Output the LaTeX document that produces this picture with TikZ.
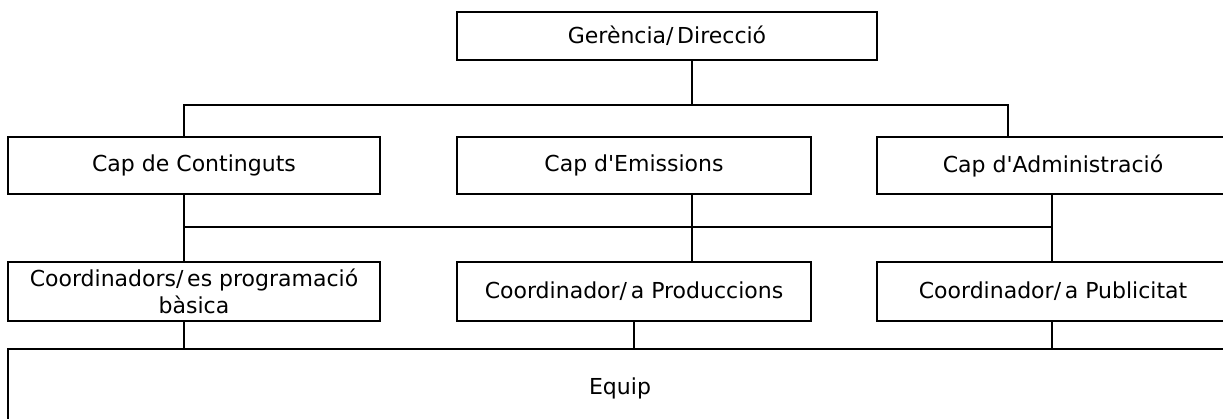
\documentclass[tikz,border=0pt]{standalone}
\usepackage{fontspec}
\setmainfont{DejaVu Sans}
\tikzset{
  box/.style={draw, rectangle, line width=1.4pt, inner sep=2pt, align=center,
    font=\fontsize{16.5}{20.5}\selectfont},
  link/.style={draw, line width=0.8pt}
}
\begin{document}
\begin{tikzpicture}[x=0.75pt,y=-0.75pt]
   \useasboundingbox (0,0) rectangle (1223,418);
   \clip (0,0) rectangle (1223,418);

   \node (Ger)  [box, minimum width=315pt, minimum height=36pt] at (667,36) {Gerència/\,Direcció};
   \node (CapC) [box, minimum width=279pt, minimum height=42.75pt] at (194,165.5) {Cap de Continguts};
   \node (CapE) [box, minimum width=265.5pt, minimum height=42.75pt] at (634,165.5) {Cap d\textquotesingle Emissions};
   \node (CapA) [box, minimum width=264pt, minimum height=42.75pt] at (1053,165.5) {Cap d\textquotesingle Administració};
   \node (CoP)  [box, minimum width=279pt, minimum height=44.25pt] at (194,291.5) {Coordinadors/\,es programació\\bàsica};
   \node (CoD)  [box, minimum width=265.5pt, minimum height=44.25pt] at (634,291.5) {Coordinador/\,a Produccions};
   \node (CoU)  [box, minimum width=264pt, minimum height=44.25pt] at (1053,291.5) {Coordinador/\,a Publicitat};
   \node (Eq)   [box, line width=2pt, minimum width=918pt, minimum height=58.5pt] at (620,388) {Equip};

   \coordinate (jG) at (692,105);
   \coordinate (jL1) at (184,105);
   \coordinate (jR1) at (1008,105);
   \coordinate (jL2) at (184,227);
   \coordinate (jE) at (692,227);
   \coordinate (jR2) at (1052,227);

   \path[link]
     (Ger.south -| jG) -- (jG)
     (CapC.north -| jL1) |- (jR1) -- (CapA.north -| jR1)
     (CapC.south -| jL2) -- (CoP.north -| jL2)
     (CapE.south -| jE) -- (CoD.north -| jE)
     (CapA.south -| jR2) -- (CoU.north -| jR2)
     (jL2) -- (jR2)
     (CoP.south -| jL2) -- (Eq.north -| jL2)
     (CoD.south) -- (CoD.south |- Eq.north)
     (CoU.south -| jR2) -- (Eq.north -| jR2);
\end{tikzpicture}
\end{document}
